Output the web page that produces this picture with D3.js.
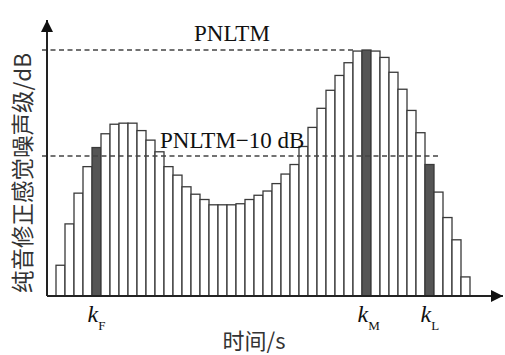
<!DOCTYPE html>
<html lang="zh">
<head>
    <meta charset="UTF-8">
    <script src="https://d3js.org/d3.v7.min.js"></script>
    <style>
        body { margin: 0; background: #fff; }
        svg { display: block; }
    </style>
</head>
<body>
    <div id="chart"></div>
    <script>
        // 各时间步长的纯音修正感觉噪声级 (dB)
        const levels = [
            79.7, 83.6, 86.5, 89.0, 90.8, 92.1, 93.0, 93.1, 93.1, 92.4,
            91.5, 90.4, 89.0, 88.2, 87.1, 86.4, 85.9, 85.4, 85.4, 85.4,
            85.5, 85.9, 86.3, 86.7, 87.4, 88.3, 89.2, 90.9, 92.7, 94.5,
            96.2, 97.6, 98.8, 99.9, 100.0, 99.9, 99.3, 97.9, 96.3, 94.3,
            92.2, 89.2, 86.6, 84.2, 82.1, 78.6
        ];
        const marked = [
            { idx: 4, name: "F" },
            { idx: 34, name: "M" },
            { idx: 41, name: "L" }
        ];
        const pnltm = 100;
        const refLines = [
            { value: pnltm, label: "PNLTM", endIdx: 33 },
            { value: pnltm - 10, label: "PNLTM\u221210 dB", endIdx: 42 }
        ];
        const yLabel = "纯音修正感觉噪声级/dB";
        const xLabel = "时间/s";

        const width = 505, height = 355;
        const originX = 47, originY = 296;

        const svg = d3.select("#chart").append("svg")
            .attr("width", width)
            .attr("height", height);

        const x = d3.scaleBand()
            .domain(d3.range(levels.length))
            .range([56, 470])
            .padding(0);

        const y = d3.scaleLinear()
            .domain([76.8, pnltm])
            .range([originY, 50]);

        const markedIdx = new Set(marked.map(d => d.idx));

        // bars
        svg.append("g")
            .selectAll("rect")
            .data(levels)
            .enter().append("rect")
            .attr("x", (d, i) => x(i))
            .attr("y", d => y(d))
            .attr("width", x.bandwidth())
            .attr("height", d => originY - y(d))
            .attr("fill", (d, i) => markedIdx.has(i) ? "#555" : "#fff")
            .attr("stroke", "#3a3a3a")
            .attr("stroke-width", 1.3);

        // dashed reference lines
        svg.append("g")
            .selectAll("line")
            .data(refLines)
            .enter().append("line")
            .attr("x1", originX - 5)
            .attr("x2", d => x(d.endIdx) + (d.endIdx === 33 ? 0 : 4))
            .attr("y1", d => y(d.value))
            .attr("y2", d => y(d.value))
            .attr("stroke", "#444")
            .attr("stroke-width", 1.5)
            .attr("stroke-dasharray", "5,3.5");

        svg.append("text")
            .attr("x", 194)
            .attr("y", y(pnltm) - 9)
            .attr("font-family", "'Liberation Serif', 'Times New Roman', serif")
            .attr("font-size", 23)
            .attr("fill", "#111")
            .text(refLines[0].label);

        svg.append("text")
            .attr("x", 160)
            .attr("y", y(pnltm - 10) - 8)
            .attr("font-family", "'Liberation Serif', 'Times New Roman', serif")
            .attr("font-size", 23)
            .attr("fill", "#111")
            .text(refLines[1].label);

        // axes with arrows
        svg.append("defs").append("marker")
            .attr("id", "arrow")
            .attr("viewBox", "0 0 10 10")
            .attr("refX", 10).attr("refY", 5)
            .attr("markerWidth", 17).attr("markerHeight", 12)
            .attr("markerUnits", "userSpaceOnUse")
            .attr("orient", "auto")
            .append("path")
            .attr("d", "M0,0 L10,5 L0,10 Z")
            .attr("fill", "#111");

        svg.append("line")
            .attr("x1", originX).attr("y1", originY)
            .attr("x2", 503).attr("y2", originY)
            .attr("stroke", "#222").attr("stroke-width", 2)
            .attr("marker-end", "url(#arrow)");

        svg.append("line")
            .attr("x1", originX).attr("y1", originY)
            .attr("x2", originX).attr("y2", 20)
            .attr("stroke", "#222").attr("stroke-width", 2)
            .attr("marker-end", "url(#arrow)");

        // k labels
        const kText = svg.append("g")
            .selectAll("text")
            .data(marked)
            .enter().append("text")
            .attr("x", d => x(d.idx) + x.bandwidth() / 2 - 9)
            .attr("y", 322)
            .attr("font-family", "'Liberation Serif', 'Times New Roman', serif")
            .attr("fill", "#111");
        kText.append("tspan")
            .attr("font-size", 24)
            .attr("font-style", "italic")
            .text("k");
        kText.append("tspan")
            .attr("font-size", 13)
            .attr("dy", 8)
            .text(d => d.name);

        // axis titles
        svg.append("text")
            .attr("x", 254)
            .attr("y", 349)
            .attr("text-anchor", "middle")
            .attr("font-family", "'Noto Sans CJK SC', sans-serif")
            .attr("font-size", 22)
            .attr("fill", "#333")
            .text(xLabel);

        svg.append("text")
            .attr("transform", "translate(31,173) rotate(-90)")
            .attr("text-anchor", "middle")
            .attr("font-family", "'Noto Sans CJK SC', sans-serif")
            .attr("font-size", 22.5)
            .attr("fill", "#333")
            .text(yLabel);
    </script>
</body>
</html>
